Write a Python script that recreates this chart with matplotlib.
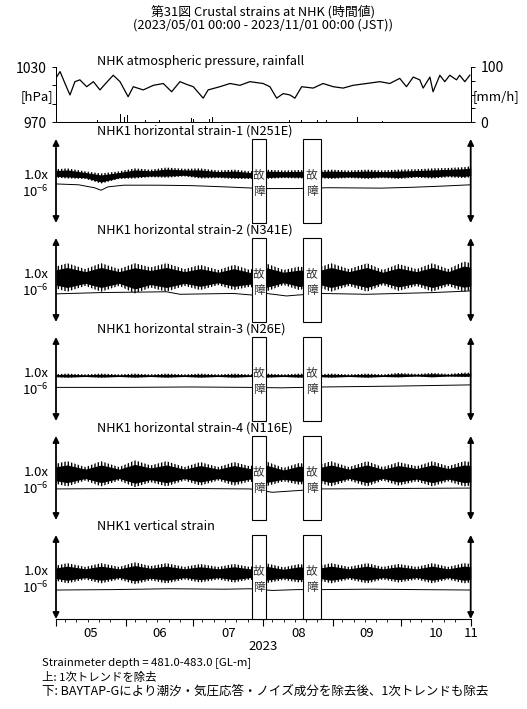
"""
第31図 NHK crustal strains (hourly), 2023/05/01 - 2023/11/01
Output: out.png
"""
import matplotlib; matplotlib.use('Agg')
import matplotlib.pyplot as plt
import matplotlib.dates as mdates
import matplotlib.transforms as mtrans
from matplotlib.patches import Rectangle
import numpy as np, datetime as dt

plt.rcParams['font.family'] = ['Noto Sans CJK JP', 'DejaVu Sans']
plt.rcParams['mathtext.fontset'] = 'custom'
plt.rcParams['mathtext.rm'] = 'Noto Sans CJK JP'
plt.rcParams['hatch.color'] = 'black'
plt.rcParams['hatch.linewidth'] = 1.0

T0 = dt.datetime(2023, 5, 1)

# --- atmospheric pressure [hPa] and rainfall [mm/h], days since 05/01
p_days = [0, 1.8, 4, 6.2, 8.4, 10.6, 13.6, 16.6, 19.5, 22, 25.4, 28.4, 32, 34.3, 38.7, 43.2,
          47.6, 51.3, 55, 58, 60.9, 65.3, 67.5, 72.7, 77.2, 81.6, 86, 91.9, 94.9, 97.9, 100.8,
          103.8, 106, 109, 114.1, 118.5, 123, 127.4, 131.8, 137.8, 143.7, 148.1, 152.5, 155.5,
          158.5, 161.4, 162.9, 165.9, 167.3, 170.3, 172.5, 174.7, 177.7, 179.1, 181.4, 183.6]
p_hpa = [1018, 1025, 1012, 999.5, 1014, 1016, 1008.5, 1014, 1005, 1012, 1021, 1014, 997.6, 1008.5,
         1005, 1010, 1012, 1003, 1014, 1011, 1008.5, 996, 1005, 1008.5, 1012, 1010, 1014, 1012,
         1008.5, 996, 1001, 999.5, 996, 1008.5, 1007, 1012, 1008.5, 1007, 1010, 1012, 1014, 1012,
         1017.6, 1008.5, 1019, 1016, 1007, 1019, 1003, 1021, 1014, 1021, 1016, 1021, 1014, 1021]
rain_days = [6.2, 18.6, 21.3, 28.8, 30.2, 31.9, 39.9, 46.1, 55.9, 60.3, 61.2, 68.3, 69.6,
             100.7, 103.8, 109.1, 114.9, 116.2, 120.2, 133.9, 145]
rain_mm = [9, 3, 3, 14, 10, 12, 3, 3, 3, 7, 6, 6, 10, 12, 4, 4, 3, 3, 3, 9, 2]

# --- strain traces, units of 1e-6 (offset per panel), days since 05/01
env_days = [0, 5, 13, 20, 28, 35, 42, 49, 57, 64, 72, 79, 86, 93, 101, 108, 115, 122, 130, 138,
            145, 152, 160, 167, 174, 181, 184]

s1_mid = [0.09, 0.09, 0.07, 0.03, 0.07, 0.09, 0.09, 0.10, 0.10, 0.09, 0.08, 0.08, 0.07, 0.08,
          0.08, 0.08, 0.08, 0.08, 0.08, 0.08, 0.08, 0.08, 0.09, 0.09, 0.10, 0.10, 0.11]
s1_amp = [0.05, 0.06, 0.045, 0.06, 0.045, 0.06, 0.045, 0.06, 0.045, 0.06, 0.045, 0.055, 0.045,
          0.055, 0.045, 0.05, 0.045, 0.055, 0.045, 0.055, 0.045, 0.055, 0.05, 0.06, 0.055, 0.065, 0.065]
s1_low_days = [0, 10, 17, 20, 23, 30, 45, 60, 75, 92, 106, 121, 144, 158, 172, 184]
s1_low = [-0.035, -0.045, -0.08, -0.11, -0.07, -0.05, -0.05, -0.055, -0.07, -0.09, -0.09, -0.08,
          -0.085, -0.075, -0.06, -0.045]

s2_mid = [0.03, 0.03, 0.03, 0.03, 0.03, 0.02, 0.03, 0.03, 0.03, 0.03, 0.03, 0.03, 0.02, 0.03,
          0.03, 0.02, 0.03, 0.03, 0.03, 0.03, 0.03, 0.03, 0.03, 0.03, 0.03, 0.04, 0.04]
s2_amp = [0.13, 0.17, 0.10, 0.17, 0.10, 0.18, 0.12, 0.17, 0.10, 0.15, 0.09, 0.15, 0.10, 0.17,
          0.09, 0.14, 0.10, 0.17, 0.10, 0.17, 0.09, 0.16, 0.10, 0.17, 0.10, 0.18, 0.16]
s2_low_days = [0, 19.5, 49, 55, 78.6, 87.5, 93.4, 102.3, 106.7, 117, 137.8, 167, 184]
s2_low = [-0.165, -0.15, -0.14, -0.17, -0.16, -0.18, -0.16, -0.19, -0.18, -0.16, -0.17, -0.15, -0.13]

s3_mid = [0.04, 0.04, 0.04, 0.04, 0.04, 0.04, 0.04, 0.04, 0.04, 0.04, 0.04, 0.04, 0.04, 0.04,
          0.04, 0.04, 0.04, 0.04, 0.04, 0.04, 0.04, 0.045, 0.045, 0.045, 0.045, 0.05, 0.05]
s3_amp = [0.018, 0.024, 0.015, 0.024, 0.015, 0.024, 0.015, 0.024, 0.015, 0.024, 0.015, 0.024, 0.015,
          0.024, 0.015, 0.024, 0.015, 0.024, 0.015, 0.024, 0.015, 0.026, 0.015, 0.026, 0.015, 0.026, 0.024]
s3_low_days = [0, 30, 60, 86, 100, 118, 150, 184]
s3_low = [-0.10, -0.10, -0.095, -0.10, -0.105, -0.095, -0.085, -0.07]

s4_mid = [0.05, 0.05, 0.05, 0.05, 0.05, 0.05, 0.05, 0.05, 0.05, 0.05, 0.05, 0.05, 0.05, 0.05,
          0.04, 0.05, 0.05, 0.05, 0.05, 0.05, 0.05, 0.05, 0.05, 0.05, 0.05, 0.05, 0.05]
s4_amp = [0.12, 0.15, 0.08, 0.15, 0.08, 0.16, 0.10, 0.15, 0.08, 0.14, 0.08, 0.14, 0.09, 0.15,
          0.08, 0.13, 0.09, 0.15, 0.08, 0.15, 0.08, 0.14, 0.09, 0.15, 0.09, 0.15, 0.14]
s4_low_days = [0, 30, 60, 86, 96, 107, 118, 150, 184]
s4_low = [-0.13, -0.125, -0.125, -0.13, -0.17, -0.15, -0.13, -0.125, -0.12]

s5_mid = [0.045, 0.045, 0.045, 0.045, 0.045, 0.045, 0.045, 0.045, 0.045, 0.045, 0.045, 0.045,
          0.045, 0.045, 0.04, 0.045, 0.045, 0.045, 0.045, 0.045, 0.045, 0.045, 0.045, 0.045,
          0.045, 0.045, 0.045]
s5_amp = [0.09, 0.12, 0.075, 0.12, 0.075, 0.13, 0.085, 0.12, 0.075, 0.11, 0.075, 0.11, 0.075, 0.12,
          0.075, 0.11, 0.075, 0.12, 0.075, 0.12, 0.075, 0.11, 0.075, 0.12, 0.075, 0.12, 0.11]
s5_low_days = [0, 25, 50, 75, 86, 96, 107, 118, 140, 160, 184]
s5_low = [-0.155, -0.15, -0.14, -0.145, -0.14, -0.16, -0.15, -0.15, -0.145, -0.15, -0.155]

titles = ['NHK1 horizontal strain-1 (N251E)', 'NHK1 horizontal strain-2 (N341E)',
          'NHK1 horizontal strain-3 (N26E)', 'NHK1 horizontal strain-4 (N116E)',
          'NHK1 vertical strain']
faults = [(86.8, 93.2), (109.4, 117.5)]   # 故障 periods
month_lbl = ['05', '06', '07', '08', '09', '10']

W, H = 527, 709
L, R = 56, 470.7
def fy(y): return 1 - y / H
def d2n(d): return mdates.date2num(T0) + np.asarray(d, dtype=float)

fig = plt.figure(figsize=(W / 100, H / 100), dpi=100)
fig.text(0.5, fy(18.5), '第31図 Crustal strains at NHK (時間値)\n(2023/05/01 00:00 - 2023/11/01 00:00 (JST))',
         ha='center', va='center', fontsize=9.3, linespacing=0.95)

# --- top panel: pressure + rain
ax0 = fig.add_axes([L / W, fy(122), (R - L) / W, 55 / H])
ax0.plot(d2n(p_days), p_hpa, 'k', lw=0.9)
ax0.set_ylim(970, 1030)
ax0.set_xlim(d2n(0), d2n(184))
ax0.spines['top'].set_visible(False)
ax0.set_yticks([970, 990, 1010, 1030], ['970', '', '', '1030'])
ax0.tick_params(axis='y', length=3, width=0.7, labelsize=10, pad=4)
ax0.set_xticks([])
axr = ax0.twinx()
axr.bar(d2n(rain_days), rain_mm, width=0.4, color='k')
axr.set_ylim(0, 100)
axr.set_xlim(d2n(0), d2n(184))
axr.spines['top'].set_visible(False)
axr.set_yticks([0, 25, 50, 75, 100], ['0', '', '', '', '100'])
axr.tick_params(axis='y', length=3, width=0.7, labelsize=10, pad=4)
for a in (ax0, axr):
    for s in a.spines.values():
        s.set_linewidth(0.7)
fig.text(L / W - 0.006, fy(97), '[hPa]', ha='right', va='center', fontsize=9.5)
fig.text(R / W + 0.003, fy(97), '[mm/h]', ha='left', va='center', fontsize=9.5)
fig.text(97 / W, fy(61), 'NHK atmospheric pressure, rainfall', ha='left', va='center', fontsize=9.2)

# --- strain panels
tops = [139, 238, 337, 436, 535]
PH = 84
panels = [(s1_mid, s1_amp, s1_low_days, s1_low), (s2_mid, s2_amp, s2_low_days, s2_low),
          (s3_mid, s3_amp, s3_low_days, s3_low), (s4_mid, s4_amp, s4_low_days, s4_low),
          (s5_mid, s5_amp, s5_low_days, s5_low)]
for i, (mid, amp, ldays, low) in enumerate(panels):
    ax = fig.add_axes([L / W, fy(tops[i] + PH), (R - L) / W, PH / H])
    mid, amp = np.array(mid), np.array(amp)
    xe = d2n(env_days)
    ax.fill_between(xe, mid - amp, mid + amp, facecolor='none', edgecolor='k', hatch='|||||', lw=0)
    ax.fill_between(xe, mid - 0.7 * amp, mid + 0.7 * amp, color='k', lw=0)
    ax.plot(d2n(ldays), low, 'k', lw=0.7)
    ax.set_xlim(d2n(0), d2n(184))
    ax.set_ylim(-0.5, 0.5)
    ax.set_yticks([])
    for s in ('top', 'left', 'right', 'bottom'):
        ax.spines[s].set_visible(False)
    tr = mtrans.blended_transform_factory(ax.transData, ax.transAxes)
    for b0, b1 in faults:
        x0, x1 = d2n(b0), d2n(b1)
        ax.add_patch(Rectangle((x0, 0), x1 - x0, 1, transform=tr, fc='white', ec='k', lw=0.8,
                               zorder=5, clip_on=False))
        ax.text((x0 + x1) / 2, 0.57, '故', transform=tr, ha='center', va='center', fontsize=8.5,
                color='#333333', zorder=6)
        ax.text((x0 + x1) / 2, 0.37, '障', transform=tr, ha='center', va='center', fontsize=8.5,
                color='#333333', zorder=6)
    for xa in (d2n(0), d2n(184)):
        ax.annotate('', xy=(xa, 1), xytext=(xa, 0), xycoords=tr, textcoords=tr,
                    arrowprops=dict(arrowstyle='<|-|>', color='k', lw=1.3, mutation_scale=9,
                                    shrinkA=0, shrinkB=0), zorder=7)
    ax.text(-0.018, 0.57, '1.0x', transform=ax.transAxes, ha='right', va='center', fontsize=9.5)
    ax.text(-0.018, 0.37, r'10$^{\mathregular{-6}}$', transform=ax.transAxes, ha='right',
            va='center', fontsize=9.5)
    fig.text(97 / W, fy(tops[i] - 8), titles[i], ha='left', va='center', fontsize=9.2)

    if i == len(panels) - 1:
        ax.spines['bottom'].set_visible(True)
        ax.spines['bottom'].set_linewidth(0.8)
        ax.xaxis.set_major_locator(mdates.MonthLocator())
        ax.xaxis.set_minor_locator(mdates.DayLocator(bymonthday=[5, 10, 15, 20, 25]))
        ax.tick_params(axis='x', which='major', length=5, width=0.8, labelbottom=False)
        ax.tick_params(axis='x', which='minor', length=2.5, width=0.6)
        for k, lbl in enumerate(month_lbl):
            m0 = mdates.date2num(dt.datetime(2023, 5 + k, 1))
            m1 = mdates.date2num(dt.datetime(2023, 6 + k, 1))
            ax.text((m0 + m1) / 2, -0.17, lbl, transform=tr, ha='center', va='center', fontsize=9.5)
        ax.text(d2n(184), -0.17, '11', transform=tr, ha='center', va='center', fontsize=9.5)
        ax.text(0.5, -0.33, '2023', transform=ax.transAxes, ha='center', va='center', fontsize=9.5)
    else:
        ax.set_xticks([])

fig.text(42 / W, fy(663), 'Strainmeter depth = 481.0-483.0 [GL-m]', ha='left', va='center', fontsize=8.2)
fig.text(42 / W, fy(677), '上: 1次トレンドを除去', ha='left', va='center', fontsize=8.2)
fig.text(42 / W, fy(691), '下: BAYTAP-Gにより潮汐・気圧応答・ノイズ成分を除去後、1次トレンドも除去',
         ha='left', va='center', fontsize=9.0)

plt.savefig('out.png', dpi=100)
plt.close()
print('saved')
